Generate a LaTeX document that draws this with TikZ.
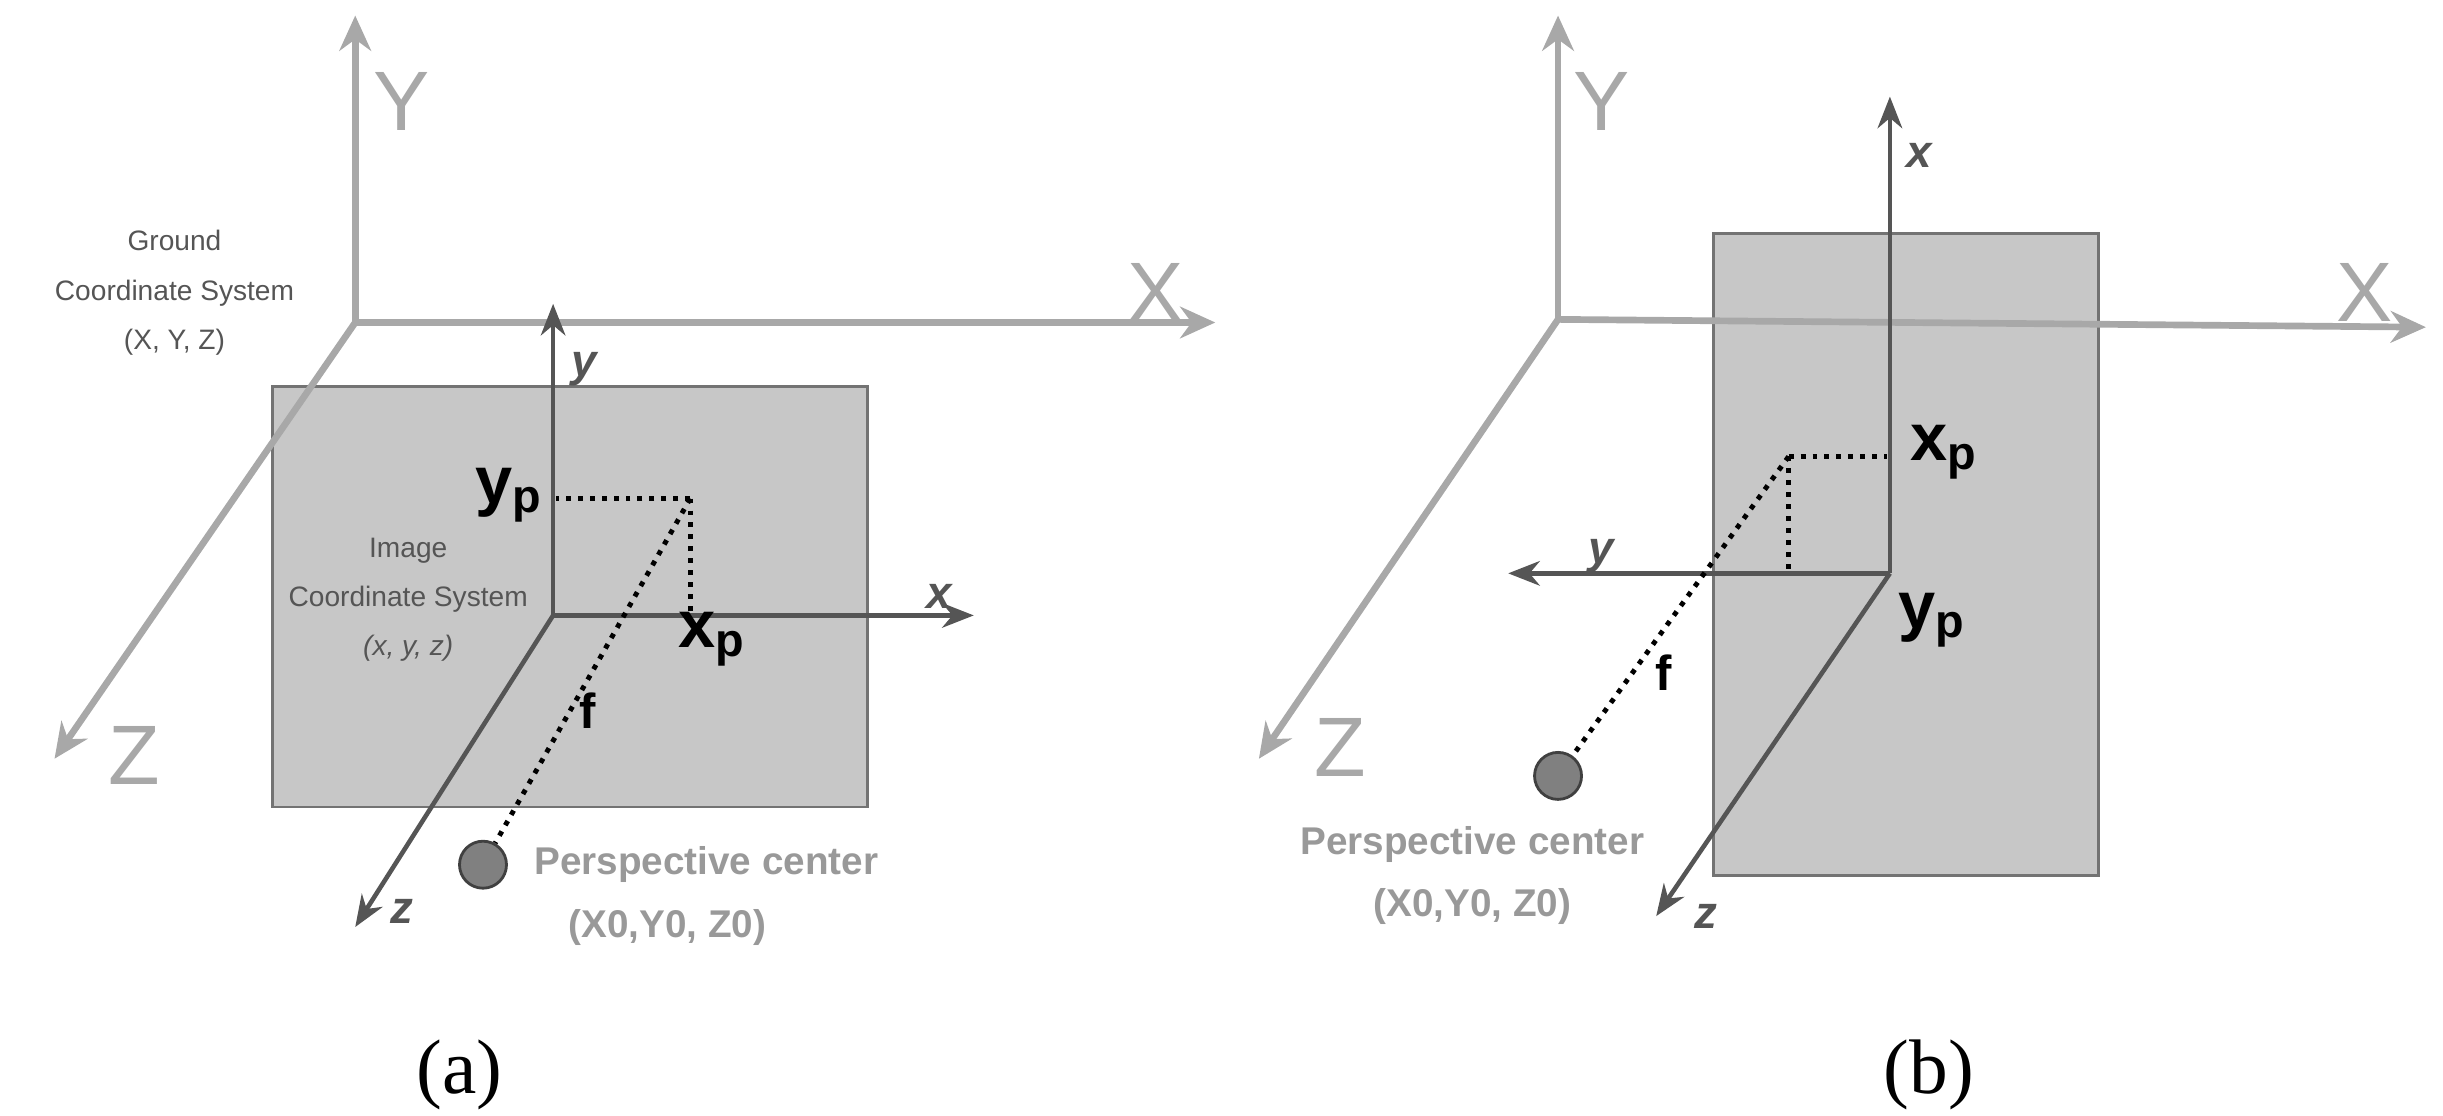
\documentclass[tikz,border=0pt]{standalone}
\usepackage{fontspec}
\setmainfont{Liberation Sans}
\newfontfamily\capfont{Liberation Serif}
\usetikzlibrary{arrows.meta}
\definecolor{gax}{HTML}{A8A8A8}
\definecolor{iax}{HTML}{555555}
\definecolor{pc}{HTML}{999999}
\begin{document}
\begin{tikzpicture}[x=0.01558cm,y=-0.01558cm,
 gaxis/.style={draw=gax,line width=1.9pt,-{Stealth[length=10pt,width=9pt]}},
 iaxis/.style={draw=iax,line width=1.3pt,-{Stealth[length=9pt,width=7pt]}},
 big/.style={text=gax,font=\fontsize{24}{24}\selectfont},
 ilab/.style={text=iax,font=\bfseries\itshape\fontsize{13}{13}\selectfont},
 sub/.style={text=black,font=\bfseries\fontsize{19}{19}\selectfont},
 small/.style={text=iax,font=\fontsize{8}{14}\selectfont,align=center},
 pct/.style={text=pc,font=\bfseries\fontsize{11}{17}\selectfont},
 dot/.style={dotted,line width=1.4pt,black},
 plane/.style={fill=black!22,draw=black!55,line width=0.8pt},
 pcirc/.style={circle,fill=black!50,draw=black!75,line width=0.8pt,inner sep=0pt,minimum size=0.47cm},
 ftext/.style={font=\bfseries\fontsize{14}{14}\selectfont},
 captext/.style={font=\capfont\fontsize{22}{22}\selectfont}]
\useasboundingbox (0,0) rectangle (1568,716);
% ---------- (a)
\coordinate (GOa) at (228,207);
\coordinate (GYa) at (228,10);
\coordinate (GXa) at (780,207);
\coordinate (GZa) at (35,487);
\draw[plane] (175,248) rectangle (557,518);
\draw[gaxis] (GOa) -- (GYa);
\draw[gaxis] (GOa) -- (GXa);
\draw[gaxis] (GOa) -- (GZa);
\node[big] (lYa) at (258,65) {Y};
\node[big] (lXa) at (742,188) {X};
\node[big] (lZa) at (86,485) {Z};
\node[small] (gcsa) at (112,188) {Ground\\Coordinate System\\(X, Y, Z)};
\coordinate (IOa) at (355,395);
\coordinate (IYa) at (355,195);
\coordinate (IXa) at (625,395);
\coordinate (IZa) at (228,595);
\draw[iaxis] (IOa) -- (IYa);
\draw[iaxis] (IOa) -- (IXa);
\draw[iaxis] (IOa) -- (IZa);
\node[ilab] (lya) at (375,237) {y};
\node[ilab] (lxa) at (603,383) {x};
\node[ilab] (lza) at (258,585) {z};
\node[small] (icsa) at (262,385) {Image\\Coordinate System\\\textit{(x, y, z)}};
\coordinate (Pa) at (443,320);
\coordinate (Pya) at (357,320);
\coordinate (Pxa) at (443,393);
\node[pcirc] (Ca) at (310,555) {};
\draw[dot] (Pa) -- (Pya);
\draw[dot] (Pa) -- (Pxa);
\draw[dot] (Pa) -- (Ca);
\node[sub] (ypa) at (327,318) {y\textsubscript{p}};
\node[sub] (xpa) at (457,410) {x\textsubscript{p}};
\node[ftext] (fa) at (377,456) {f};
\node[pct,anchor=west] (pca) at (335,555) {Perspective center};
\node[pct,anchor=west] (pcca) at (357,595) {(X0,Y0, Z0)};
\node[captext] (capa) at (295,1075/1.558) {(a)};
% ---------- (b)
\coordinate (GOb) at (1000,205);
\coordinate (GYb) at (1000,10);
\coordinate (GXb) at (1557,210);
\coordinate (GZb) at (808,487);
\draw[plane] (1100,150) rectangle (1347,562);
\draw[gaxis] (GOb) -- (GYb);
\draw[gaxis] (GOb) -- (GXb);
\draw[gaxis] (GOb) -- (GZb);
\node[big] (lYb) at (1028,65) {Y};
\node[big] (lXb) at (1518,188) {X};
\node[big] (lZb) at (860,480) {Z};
\coordinate (IOb) at (1213,368);
\coordinate (IXb) at (1213,62);
\coordinate (IYb) at (968,368);
\coordinate (IZb) at (1063,588);
\draw[iaxis] (IOb) -- (IXb);
\draw[iaxis] (IOb) -- (IYb);
\draw[iaxis] (IOb) -- (IZb);
\node[ilab] (lxb) at (1232,100) {x};
\node[ilab] (lyb) at (1028,357) {y};
\node[ilab] (lzb) at (1095,588) {z};
\coordinate (Pb) at (1148,293);
\coordinate (Pxb) at (1211,293);
\coordinate (Pyb) at (1148,366);
\node[pcirc] (Cb) at (1000,498) {};
\draw[dot] (Pb) -- (Pxb);
\draw[dot] (Pb) -- (Pyb);
\draw[dot] (Pb) -- (Cb);
\node[sub] (xpb) at (1248,290) {x\textsubscript{p}};
\node[sub] (ypb) at (1240,398) {y\textsubscript{p}};
\node[ftext] (fb) at (1068,432) {f};
\node[pct] (pcb) at (945,542) {Perspective center};
\node[pct] (pccb) at (945,582) {(X0,Y0, Z0)};
\node[captext] (capb) at (1238,1075/1.558) {(b)};
\end{tikzpicture}
\end{document}
